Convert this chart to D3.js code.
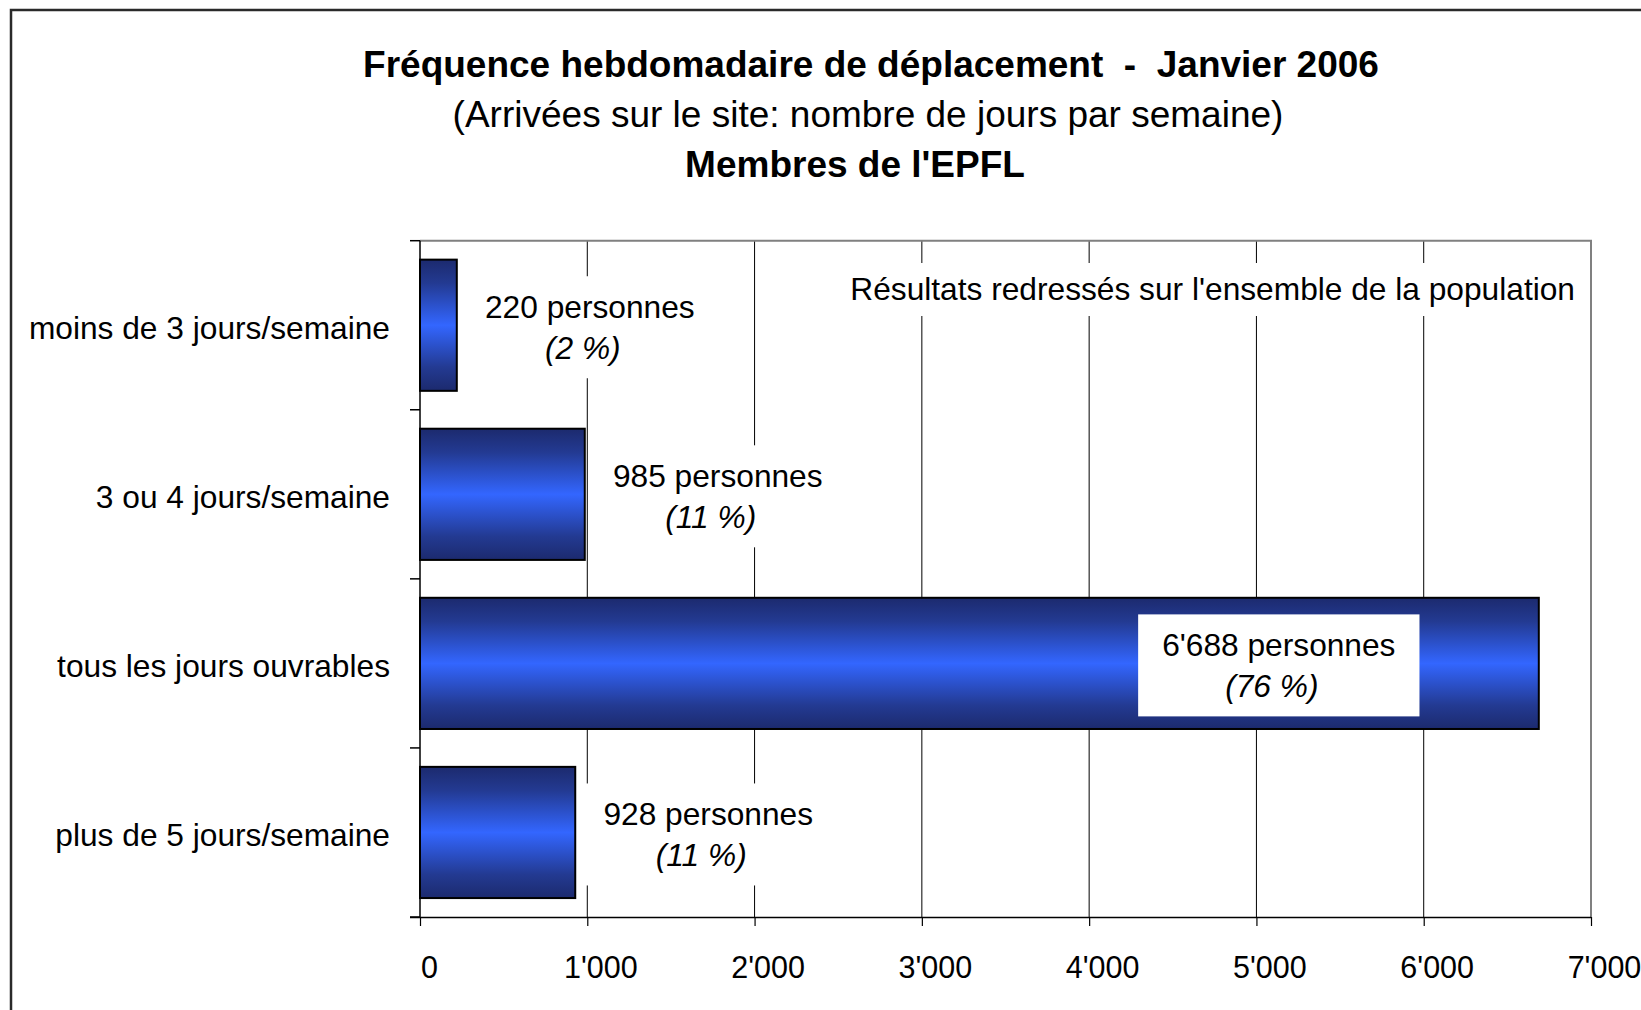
<!DOCTYPE html>
<html>
<head>
<meta charset="utf-8">
<script src="https://cdn.jsdelivr.net/npm/d3@7/dist/d3.min.js"></script>
<style>
  body { margin: 0; background: #fff; }
  svg { display: block; font-family: "Liberation Sans", Arial, sans-serif; }
</style>
</head>
<body>
<svg id="chart" width="1641" height="1010"></svg>
<script>
'use strict';

const categories = [
  'moins de 3 jours/semaine',
  '3 ou 4 jours/semaine',
  'tous les jours ouvrables',
  'plus de 5 jours/semaine'
];
const personnes = [220, 985, 6688, 928];
const pourcents = [2, 11, 76, 11];
const xTicks = [0, 1000, 2000, 3000, 4000, 5000, 6000, 7000];
const titleLines = [
  { text: 'Fréquence hebdomadaire de déplacement  -  Janvier 2006', bold: true },
  { text: '(Arrivées sur le site: nombre de jours par semaine)', bold: false },
  { text: "Membres de l'EPFL", bold: true }
];
const note = "Résultats redressés sur l'ensemble de la population";
const insideLabel = [false, false, true, false];

const svg = d3.select('#chart');
const plot = { left: 420, right: 1591, top: 240.7, bottom: 917 };

const locale = d3.formatLocale({ decimal: '.', thousands: "'", grouping: [3], currency: ['', ''] });
const fmt = locale.format(',');

const x = d3.scaleLinear().domain([0, 7000]).range([plot.left, plot.right]);
const y = d3.scaleBand().domain(categories)
  .range([plot.top, plot.bottom])
  .paddingInner(0.224).paddingOuter(0.112);
const step = y.step();

// outer frame (runs off the page on the right and bottom)
svg.append('rect')
  .attr('x', 11).attr('y', 10).attr('width', 2000).attr('height', 2000)
  .attr('fill', 'none').attr('stroke', '#2a2a2a').attr('stroke-width', 2.5);

// titles
const titleX = [871, 868, 855];
const titleY = [77, 127, 177];
svg.selectAll('.title').data(titleLines).enter().append('text')
  .attr('class', 'title')
  .attr('x', (d, i) => titleX[i])
  .attr('y', (d, i) => titleY[i])
  .attr('text-anchor', 'middle')
  .attr('font-size', 37)
  .attr('font-weight', (d) => d.bold ? 'bold' : 'normal')
  .attr('fill', '#000')
  .attr('xml:space', 'preserve')
  .style('white-space', 'pre')
  .text((d) => d.text);

// gridlines
svg.append('g').selectAll('line')
  .data(xTicks.filter((t) => t > 0 && t < 7000))
  .enter().append('line')
  .attr('x1', (d) => x(d)).attr('x2', (d) => x(d))
  .attr('y1', plot.top).attr('y2', plot.bottom)
  .attr('stroke', '#000').attr('stroke-width', 1);

// plot border top / right
svg.append('path')
  .attr('d', `M${plot.left},${plot.top}H${plot.right}V${plot.bottom}`)
  .attr('fill', 'none').attr('stroke', '#808080').attr('stroke-width', 2);

// note text box
const noteG = svg.append('g');
const noteRect = noteG.append('rect').attr('fill', '#fff');
const noteText = noteG.append('text')
  .attr('x', 1575).attr('y', 300)
  .attr('text-anchor', 'end')
  .attr('font-size', 31.7)
  .attr('fill', '#000')
  .text(note);
const nb = noteText.node().getBBox();
noteRect.attr('x', nb.x - 8).attr('y', 263)
  .attr('width', nb.width + 16).attr('height', 53);

// bar gradient
const grad = svg.append('defs').append('linearGradient')
  .attr('id', 'barGrad').attr('x1', 0).attr('x2', 0).attr('y1', 0).attr('y2', 1);
[[0, '#1c2a6e'], [0.18, '#233a92'], [0.5, '#3366ff'], [0.82, '#233a92'], [1, '#1c2a6e']]
  .forEach(([o, c]) => grad.append('stop').attr('offset', o).attr('stop-color', c));

// bars
svg.append('g').selectAll('rect')
  .data(categories)
  .enter().append('rect')
  .attr('x', x(0))
  .attr('y', (d) => y(d))
  .attr('width', (d, i) => x(personnes[i]) - x(0))
  .attr('height', y.bandwidth())
  .attr('fill', 'url(#barGrad)')
  .attr('stroke', '#000').attr('stroke-width', 2);

// data labels
categories.forEach((cat, i) => {
  const cy = y(cat) + y.bandwidth() / 2;
  const end = x(personnes[i]);
  const cx = insideLabel[i] ? end - 260 : end + 133;
  const g = svg.append('g');
  const box = g.append('rect').attr('fill', '#fff');
  const t1 = g.append('text')
    .attr('x', cx).attr('y', cy - 7)
    .attr('text-anchor', 'middle').attr('font-size', 31.7).attr('fill', '#000')
    .text(fmt(personnes[i]) + ' personnes');
  g.append('text')
    .attr('x', cx - 7).attr('y', cy + 34)
    .attr('text-anchor', 'middle').attr('font-size', 31.7)
    .attr('font-style', 'italic').attr('fill', '#000')
    .text('(' + pourcents[i] + ' %)');
  const w = t1.node().getComputedTextLength() + 48;
  box.attr('x', cx - w / 2).attr('y', cy - 49)
    .attr('width', w).attr('height', 102);
});

// y axis: line, boundary ticks, category labels
const yAxis = svg.append('g');
yAxis.append('line')
  .attr('x1', plot.left).attr('x2', plot.left)
  .attr('y1', plot.top).attr('y2', plot.bottom)
  .attr('stroke', '#000').attr('stroke-width', 1.5);
yAxis.selectAll('.tk')
  .data(d3.range(categories.length + 1))
  .enter().append('line')
  .attr('x1', plot.left - 10).attr('x2', plot.left)
  .attr('y1', (d) => plot.top + d * step)
  .attr('y2', (d) => plot.top + d * step)
  .attr('stroke', '#000').attr('stroke-width', 1.5);
yAxis.selectAll('.cat')
  .data(categories)
  .enter().append('text')
  .attr('x', 390)
  .attr('y', (d) => y(d) + y.bandwidth() / 2 + 14)
  .attr('text-anchor', 'end')
  .attr('font-size', 31.7)
  .attr('fill', '#000')
  .text((d) => d);

// x axis
const xAxis = svg.append('g')
  .attr('transform', `translate(0,${plot.bottom})`)
  .call(d3.axisBottom(x).tickValues(xTicks).tickSize(9).tickSizeOuter(0).tickFormat(fmt));
xAxis.select('.domain').attr('stroke', '#000').attr('stroke-width', 1.5)
  .attr('d', `M${plot.left - 10},0.5H${plot.right}`);
xAxis.selectAll('.tick line').attr('stroke', '#000').attr('stroke-width', 1.2);
xAxis.selectAll('.tick text')
  .attr('y', 978 - plot.bottom).attr('dy', 0)
  .attr('dx', (d) => d === 0 ? 9 : 13)
  .attr('font-size', 30.5)
  .attr('font-family', '"Liberation Sans", Arial, sans-serif')
  .attr('fill', '#000');
</script>
</body>
</html>
